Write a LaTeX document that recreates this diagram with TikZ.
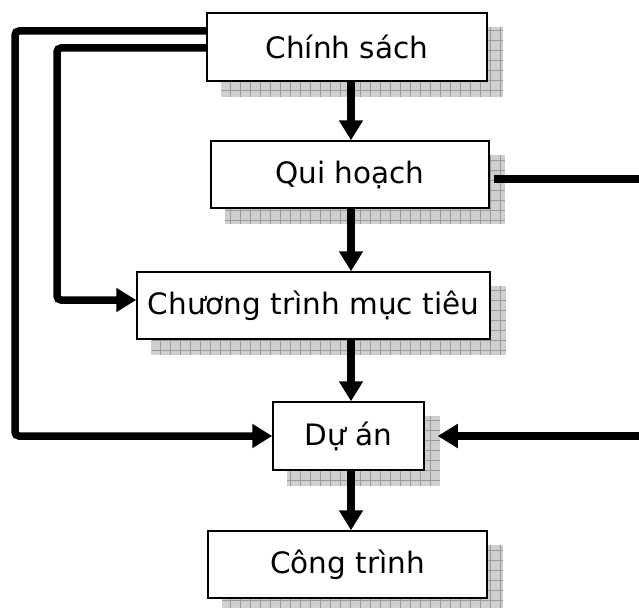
\documentclass[tikz,border=0pt]{standalone}
\usepackage{fontspec}
\setmainfont{DejaVu Sans}
\usetikzlibrary{arrows.meta,backgrounds,calc}
\tikzset{
  box/.style={draw=black, line width=1.5pt, fill=white, rectangle, inner sep=0pt,
    minimum height=67pt, font=\fontsize{29.5}{35}\selectfont},
  shadowbox/.style={fill=gray!38, path picture={
      \draw[gray!80, line width=0.5pt, step=10pt]
        (path picture bounding box.south west) grid (path picture bounding box.north east);}},
  conn/.style={line width=7.5pt, -{Triangle[width=23pt,length=20pt]}},
  plain/.style={line width=7.5pt},
}
\begin{document}
\begin{tikzpicture}[x=1pt,y=-1pt]
\useasboundingbox (0,0) rectangle (639,607);
\node[box, minimum width=280pt, minimum height=68pt] (cs) at (347,47) {Chính sách};
\node[box, minimum width=278pt] (qh) at (350,174.5) {Qui hoạch};
\node[box, minimum width=353pt] (ct) at (313.5,305.5) {Chương trình mục tiêu};
\node[box, minimum width=151pt, minimum height=68pt] (da) at (348.5,436) {Dự án};
\node[box, minimum width=279pt] (cg) at (347.5,564.5) {Công trình};
\begin{scope}[on background layer]
  \foreach \n in {cs,qh,ct,da,cg}{
    \path[shadowbox] ($(\n.south west)+(15,15)$) rectangle ($(\n.north east)+(15,15)$);
  }
\end{scope}
% vertical arrows
\draw[conn] (cs.south -| 351,0) -- (qh.north -| 351,0);
\draw[conn] (qh.south -| 351,0) -- (ct.north -| 351,0);
\draw[conn] (ct.south -| 351,0) -- (da.north -| 351,0);
\draw[conn] (da.south -| 351,0) -- (cg.north -| 351,0);
% left feedback lines
\coordinate (o1) at (15,31);
\coordinate (o2) at (15,436);
\coordinate (i1) at (57,48);
\coordinate (i2) at (57,300);
\draw[conn, rounded corners=4pt] (cs.west |- o1) -- (o1) -- (o2) -- (da.west);
\draw[conn, rounded corners=4pt] (cs.west |- i1) -- (i1) -- (i2) -- (ct.west |- i2);
% right lines
\coordinate (r1) at (639,179);
\coordinate (r2) at (639,436);
\draw[plain] ($(qh.east |- r1)+(4,0)$) -- (r1);
\draw[conn] (r2) -- ($(da.east)+(13,0)$);
\end{tikzpicture}
\end{document}
